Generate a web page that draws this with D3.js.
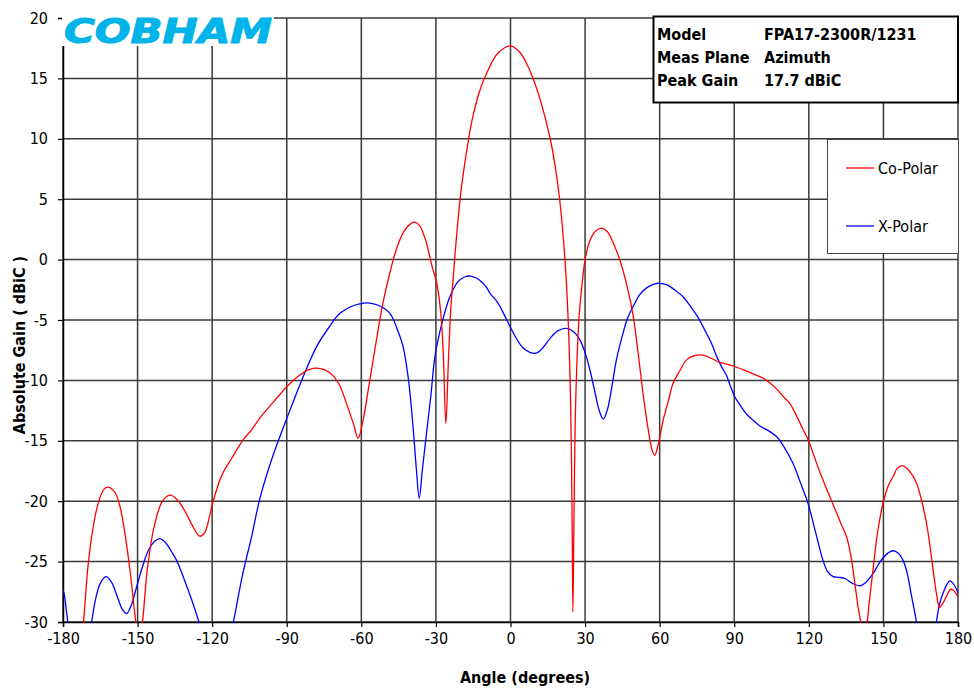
<!DOCTYPE html>
<html>
<head>
<meta charset="utf-8">
<script src="https://cdn.jsdelivr.net/npm/d3@7"></script>
<style>
  html, body { margin: 0; padding: 0; background: #fff; }
  svg { display: block; }
  text { font-family: "DejaVu Sans Condensed", "DejaVu Sans", sans-serif; }
</style>
</head>
<body>
<svg id="chart" width="974" height="688"></svg>
<script>
// Azimuth cut, co-polar and cross-polar gain (dBiC) versus angle (degrees)
const coAngles = [-180,-175,-172,-170,-168,-166,-163.5,-161.5,-159,-157,-155,-153,-151,-149.3,-148,-146,-143,-140,-137,-134,-131,-128,-125,-123,-121,-119.6,-116,-112,-107.5,-104.8,-100,-95,-89.7,-85,-81,-77,-73,-69,-66,-63,-61.3,-59.5,-56.6,-53,-51,-49,-46,-43,-40,-38.5,-36.5,-34,-31.5,-29.7,-28,-27,-26,-25,-24,-23.1,-22,-20,-18,-15.5,-12.5,-9,-5,0,4,7,9.1,12,15.8,18,19.8,21.9,23.2,24.2,24.8,25.1,25.5,26.2,27.5,28.8,30,32,34.5,36.6,39,41.5,44,47,49.3,51.5,53.3,55.5,57,58,59.3,61.4,63.5,65.4,68.1,70.8,74,77.5,81,84,87,90.2,94,98,101.5,104.3,107,110,112.3,115,117.5,119.7,122,125,128.4,131,133,135.1,137,138.5,140,141.2,142.3,143.2,144.5,145.8,147.5,149.8,152,153.9,155.5,157.6,159.5,161.5,163.3,165.3,167.3,168.8,170,171.3,172.6,173.8,175.3,177,178,180];
const coGain = [-36,-35,-30.5,-25.5,-22.3,-20.3,-19.0,-18.85,-19.3,-20.5,-22.8,-25.8,-29.5,-32,-30,-25.5,-21.8,-20.0,-19.5,-19.9,-20.8,-22.0,-22.9,-22.6,-21.2,-20.0,-17.8,-16.4,-14.9,-14.25,-12.9,-11.7,-10.46,-9.6,-9.1,-9.0,-9.3,-10.3,-11.9,-13.7,-14.8,-13.5,-10.0,-5.5,-3.3,-1.5,0.8,2.3,3.0,3.1,2.8,1.5,-0.6,-1.9,-4.5,-8,-13.6,-8.5,-4,-1.7,1.2,5.5,8.5,11.5,13.9,15.7,17.1,17.7,17.1,16.0,15.0,13.2,10.17,7.7,4.93,0.03,-5,-12,-22,-29.2,-22,-12,-5,-2,0,1.6,2.4,2.6,2.3,1.3,-0.03,-2.3,-4.6,-8.0,-11.07,-14.2,-15.8,-16.2,-15.4,-13.3,-11.7,-10.24,-9.2,-8.3,-7.95,-7.9,-8.2,-8.5,-8.65,-8.85,-9.15,-9.5,-9.8,-10.2,-10.7,-11.4,-11.9,-12.9,-14.0,-14.9,-16.2,-17.9,-19.6,-20.9,-21.9,-22.9,-24.6,-26.8,-29.0,-30.3,-31.5,-30.5,-28,-25.7,-22.8,-20.2,-18.7,-17.97,-17.3,-17.06,-17.3,-17.8,-18.5,-19.9,-21.8,-23.8,-25.7,-27.6,-28.8,-28.5,-27.9,-27.3,-27.35,-27.9];

const xAngles = [-180,-179.6,-178.5,-177.5,-176,-172,-170,-168.5,-167,-165,-162.7,-160.5,-158,-156,-154.4,-152.5,-150.4,-148,-145.5,-143,-141,-138.5,-136,-134.3,-131,-128,-125.3,-123,-118,-113.5,-111.5,-108,-104,-100.8,-96,-89.7,-84,-78,-73,-68.6,-63,-59,-56.6,-53,-48.5,-45.5,-43.2,-41,-39.1,-37.8,-36.7,-35.5,-33.8,-32,-30.4,-27.5,-24.4,-21,-18,-16.3,-14,-12.5,-10,-8.2,-5,-1.5,2,5,8,10.6,13,16,19,22.5,25.5,27.9,30,31.9,34,35.7,37.3,39,40.8,42.6,45,47,49.3,52,55,58,60,63,66,69.4,72.5,75.5,78.8,81,82.9,85,86.9,88.5,90.2,92.2,95,97.6,100.5,104,107,110,113.7,116.5,119.7,122.5,125.7,127.5,129.8,132,134.5,137.5,140.5,143,145.8,147.8,149.8,151.8,153.9,156,157.9,159.5,161,162.3,163.3,164.5,167,170,171.3,172.6,174,175.5,176.7,178,179.2,180];
const xGain = [-27.4,-27.6,-29.3,-31,-33,-34,-31.5,-30,-28.2,-26.8,-26.25,-26.7,-28.0,-29.0,-29.3,-28.6,-27.1,-25.4,-24.0,-23.3,-23.1,-23.5,-24.3,-24.9,-26.6,-28.3,-30,-31.5,-33,-31.5,-30,-26.3,-22.8,-19.76,-16.5,-13.0,-10.0,-7.2,-5.6,-4.45,-3.8,-3.6,-3.6,-3.8,-4.45,-5.8,-7.2,-10,-14.1,-17.5,-19.76,-17.5,-14.4,-11.2,-8.04,-5.2,-3.07,-1.8,-1.4,-1.36,-1.5,-1.69,-2.2,-2.8,-3.6,-5.0,-6.4,-7.3,-7.7,-7.73,-7.3,-6.5,-5.9,-5.7,-6.0,-6.65,-7.7,-9.1,-11.0,-12.5,-13.2,-12.4,-10.5,-8.3,-6.3,-4.9,-3.9,-2.9,-2.3,-2.0,-1.96,-2.1,-2.5,-3.07,-3.9,-4.8,-6.1,-7.0,-8.0,-8.9,-9.6,-10.5,-11.35,-12.0,-12.8,-13.3,-13.8,-14.2,-14.65,-15.5,-16.9,-18.4,-20.2,-22.4,-24.9,-25.8,-26.25,-26.3,-26.4,-26.8,-27.0,-26.7,-26.0,-25.3,-24.7,-24.3,-24.1,-24.3,-24.9,-25.9,-27.5,-28.9,-30,-31.5,-33,-31.8,-30,-28.5,-27.6,-26.9,-26.6,-26.8,-27.2,-27.6];

const xTicks = [-180,-150,-120,-90,-60,-30,0,30,60,90,120,150,180];
const yTicks = [20,15,10,5,0,-5,-10,-15,-20,-25,-30];

const seriesNames = ["Co-Polar", "X-Polar"];
const seriesColors = ["#ff0000", "#0000ff"];

const infoLabels = ["Model", "Meas Plane", "Peak Gain"];
const infoValues = ["FPA17-2300R/1231", "Azimuth", "17.7 dBiC"];

const svg = d3.select("#chart");
const plot = { left: 63, right: 958, top: 18, bottom: 622 };

const x = d3.scaleLinear().domain([-180, 180]).range([plot.left, plot.right]);
const y = d3.scaleLinear().domain([-30, 20]).range([plot.bottom, plot.top]);

// grid lines
const grid = svg.append("g").attr("stroke", "#3a3a3a").attr("stroke-width", 1.5);
grid.selectAll("line.v").data(xTicks).join("line")
  .attr("x1", d => x(d)).attr("x2", d => x(d))
  .attr("y1", plot.top).attr("y2", plot.bottom);
grid.selectAll("line.h").data(yTicks).join("line")
  .attr("y1", d => y(d)).attr("y2", d => y(d))
  .attr("x1", plot.left).attr("x2", plot.right);

// axes (plain hyphen for negative labels)
const fmt = d => String(d);
const xAxis = d3.axisBottom(x).tickValues(xTicks).tickFormat(fmt).tickSize(5).tickPadding(6);
const yAxis = d3.axisLeft(y).tickValues(yTicks).tickFormat(fmt).tickSize(5).tickPadding(10);

const gx = svg.append("g").attr("transform", `translate(0,${plot.bottom})`).call(xAxis);
const gy = svg.append("g").attr("transform", `translate(${plot.left},0)`).call(yAxis);
[gx, gy].forEach(g => {
  g.select(".domain").attr("stroke", "#000").attr("stroke-width", 1.5);
  g.selectAll(".tick line").attr("stroke", "#000").attr("stroke-width", 1.2);
  g.selectAll(".tick text")
    .attr("font-family", "'DejaVu Sans Condensed', 'DejaVu Sans', sans-serif")
    .attr("font-size", 16).attr("fill", "#000");
});

// curves
svg.append("defs").append("clipPath").attr("id", "plotClip")
  .append("rect").attr("x", plot.left).attr("y", plot.top)
  .attr("width", plot.right - plot.left).attr("height", plot.bottom - plot.top + 1);

const line = d3.line()
  .x(d => x(d[0])).y(d => y(d[1]))
  .curve(d3.curveCatmullRom.alpha(0.5));

const series = [
  d3.zip(coAngles, coGain),
  d3.zip(xAngles, xGain)
];

const curves = svg.append("g").attr("clip-path", "url(#plotClip)");
// cross-polar drawn first, co-polar on top
[1, 0].forEach(i => {
  curves.append("path")
    .datum(series[i])
    .attr("fill", "none")
    .attr("stroke", seriesColors[i])
    .attr("stroke-width", 1.3)
    .attr("d", line);
});

// logo
svg.append("rect").attr("x", 62).attr("y", 6).attr("width", 212).attr("height", 40).attr("fill", "#fff");
svg.append("text")
  .attr("x", 64).attr("y", 43)
  .attr("font-family", "'DejaVu Sans', sans-serif")
  .attr("font-weight", "bold").attr("font-style", "italic")
  .attr("font-size", 34)
  .attr("textLength", 208).attr("lengthAdjust", "spacingAndGlyphs")
  .attr("fill", "#00b4ea").attr("stroke", "#00b4ea").attr("stroke-width", 1)
  .text("COBHAM");

// info box
svg.append("rect").attr("x", 653.5).attr("y", 16.5).attr("width", 304.5).attr("height", 86)
  .attr("fill", "#fff").attr("stroke", "#000").attr("stroke-width", 2);
const infoY = [40, 63, 86];
infoLabels.forEach((t, i) => {
  svg.append("text").attr("x", 657).attr("y", infoY[i])
    .attr("font-weight", "bold").attr("font-size", 16).attr("fill", "#000").text(t);
  svg.append("text").attr("x", 764).attr("y", infoY[i])
    .attr("font-weight", "bold").attr("font-size", 16).attr("fill", "#000").text(infoValues[i]);
});

// legend
const lg = svg.append("g");
lg.append("rect").attr("x", 827.5).attr("y", 139.5).attr("width", 131).attr("height", 114)
  .attr("fill", "#fff").attr("stroke", "#444").attr("stroke-width", 1);
seriesNames.forEach((name, i) => {
  const ly = 168 + i * 58;
  lg.append("line").attr("x1", 846).attr("x2", 874).attr("y1", ly).attr("y2", ly)
    .attr("stroke", seriesColors[i]).attr("stroke-width", 1.3);
  lg.append("text").attr("x", 878).attr("y", ly + 6)
    .attr("font-size", 16).attr("fill", "#000").text(name);
});

// axis titles
svg.append("text").attr("x", 525).attr("y", 683).attr("text-anchor", "middle")
  .attr("font-weight", "bold").attr("font-size", 16).attr("fill", "#000")
  .text("Angle (degrees)");
svg.append("text").attr("transform", "translate(25,345) rotate(-90)")
  .attr("text-anchor", "middle")
  .attr("font-weight", "bold").attr("font-size", 16).attr("fill", "#000")
  .text("Absolute Gain ( dBiC )");
</script>
</body>
</html>
